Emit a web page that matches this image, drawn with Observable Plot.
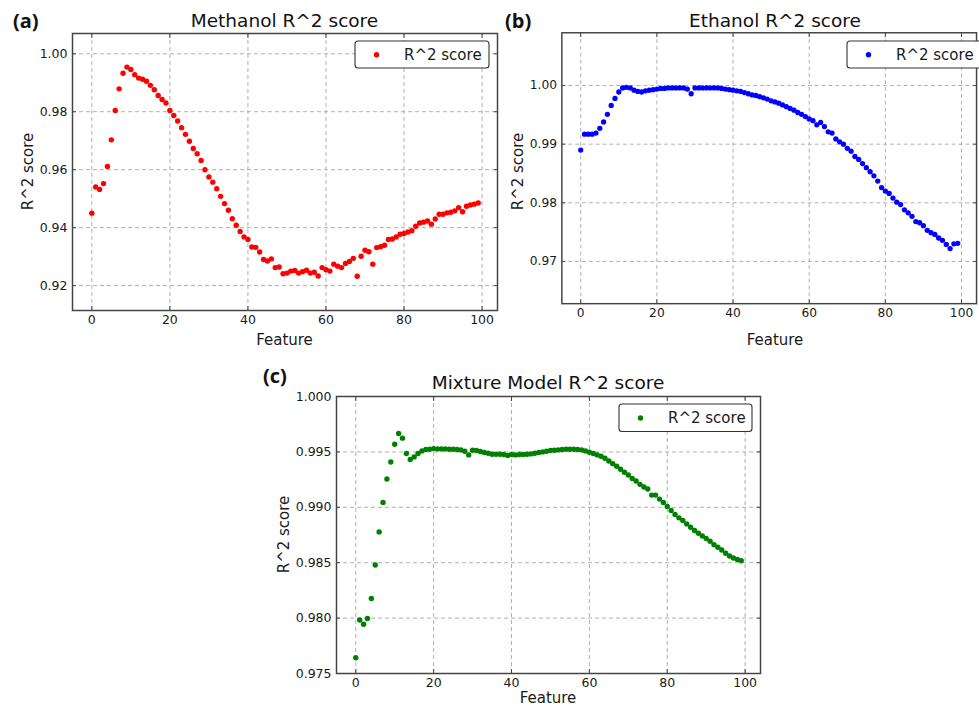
<!DOCTYPE html>
<html>
<head>
<meta charset="utf-8">
<script src="https://cdn.jsdelivr.net/npm/d3@7"></script>
<script src="https://cdn.jsdelivr.net/npm/@observablehq/plot@0.6"></script>
<style>
  html, body { margin: 0; padding: 0; background: #fff; }
  body { width: 979px; height: 708px; overflow: hidden; position: relative; font-family: "DejaVu Sans", sans-serif; }
  .panel { position: absolute; }
  #overlay { position: absolute; left: 0; top: 0; pointer-events: none; }
</style>
</head>
<body>
<div id="pa" class="panel" style="left:0px;top:0px"></div>
<div id="pb" class="panel" style="left:490px;top:0px"></div>
<div id="pc" class="panel" style="left:260px;top:350px"></div>
<svg id="overlay" width="979" height="708"></svg>
<script>
// ---------- data ----------
const features = Array.from({length: 100}, (_, i) => i);
const xTicks = [0, 20, 40, 60, 80, 100];

const methanolR2 = [
  0.9450, 0.9540, 0.9532, 0.9552, 0.9611, 0.9703, 0.9804, 0.9879, 0.9933, 0.9954,
  0.9946, 0.9928, 0.9916, 0.9912, 0.9905, 0.9891, 0.9876, 0.9856, 0.9842, 0.9830,
  0.9804, 0.9787, 0.9768, 0.9745, 0.9722, 0.9698, 0.9673, 0.9655, 0.9632, 0.9600,
  0.9575, 0.9557, 0.9534, 0.9508, 0.9483, 0.9460, 0.9431, 0.9408, 0.9387, 0.9368,
  0.9359, 0.9333, 0.9332, 0.9316, 0.9290, 0.9285, 0.9292, 0.9262, 0.9264, 0.9241,
  0.9243, 0.9250, 0.9252, 0.9243, 0.9248, 0.9253, 0.9243, 0.9246, 0.9233, 0.9262,
  0.9255, 0.9250, 0.9274, 0.9267, 0.9262, 0.9276, 0.9283, 0.9294, 0.9232, 0.9301,
  0.9322, 0.9317, 0.9274, 0.9331, 0.9334, 0.9339, 0.9359, 0.9361, 0.9368, 0.9377,
  0.9380, 0.9385, 0.9389, 0.9405, 0.9416, 0.9419, 0.9423, 0.9412, 0.9430, 0.9446,
  0.9446, 0.9451, 0.9453, 0.9458, 0.9469, 0.9455, 0.9474, 0.9478, 0.9481, 0.9485
];
const ethanolR2 = [
  0.9890, 0.9917, 0.9917, 0.9917, 0.9919, 0.9927, 0.9938, 0.9951, 0.9966, 0.9978,
  0.9989, 0.9996, 0.9997, 0.9996, 0.9992, 0.9990, 0.9989, 0.9991, 0.9992, 0.9993,
  0.9994, 0.9995, 0.9995, 0.9996, 0.9996, 0.9996, 0.9996, 0.9996, 0.9994, 0.9986,
  0.9996, 0.9996, 0.9996, 0.9996, 0.9996, 0.9996, 0.9996, 0.9995, 0.9994, 0.9993,
  0.9992, 0.9991, 0.9990, 0.9988, 0.9986, 0.9984, 0.9983, 0.9981, 0.9979, 0.9977,
  0.9974, 0.9972, 0.9970, 0.9967, 0.9964, 0.9961, 0.9958, 0.9954, 0.9951, 0.9947,
  0.9943, 0.9940, 0.9933, 0.9937, 0.9930, 0.9921, 0.9919, 0.9909, 0.9904, 0.9900,
  0.9893, 0.9888, 0.9879, 0.9874, 0.9867, 0.9860, 0.9853, 0.9846, 0.9837, 0.9826,
  0.9820, 0.9816, 0.9808, 0.9801, 0.9797, 0.9788, 0.9783, 0.9777, 0.9768, 0.9766,
  0.9761, 0.9753, 0.9749, 0.9746, 0.9740, 0.9736, 0.9729, 0.9722, 0.9730, 0.9731
];
const mixtureR2 = [
  0.97642, 0.97983, 0.97944, 0.97996, 0.98177, 0.98479, 0.98778, 0.99044, 0.99255, 0.99409,
  0.99569, 0.99666, 0.99624, 0.99485, 0.99431, 0.99455, 0.99485, 0.99509, 0.99521, 0.99524,
  0.99530, 0.99527, 0.99527, 0.99527, 0.99524, 0.99524, 0.99521, 0.99518, 0.99506, 0.99473,
  0.99515, 0.99512, 0.99503, 0.99494, 0.99488, 0.99479, 0.99479, 0.99479, 0.99476, 0.99467,
  0.99476, 0.99473, 0.99476, 0.99476, 0.99479, 0.99482, 0.99488, 0.99494, 0.99500, 0.99506,
  0.99512, 0.99515, 0.99518, 0.99521, 0.99524, 0.99524, 0.99524, 0.99521, 0.99518, 0.99509,
  0.99497, 0.99485, 0.99473, 0.99461, 0.99443, 0.99418, 0.99394, 0.99370, 0.99343, 0.99316,
  0.99292, 0.99261, 0.99237, 0.99207, 0.99183, 0.99165, 0.99110, 0.99110, 0.99074, 0.99044,
  0.99008, 0.98971, 0.98935, 0.98905, 0.98881, 0.98850, 0.98820, 0.98790, 0.98766, 0.98742,
  0.98718, 0.98693, 0.98663, 0.98639, 0.98615, 0.98585, 0.98560, 0.98542, 0.98530, 0.98518
];
const methanolTicks = [0.92, 0.94, 0.96, 0.98, 1.00];
const ethanolTicks = [0.97, 0.98, 0.99, 1.00];
const mixtureTicks = [0.975, 0.980, 0.985, 0.990, 0.995, 1.000];

const titles = ["Methanol R^2 score", "Ethanol R^2 score", "Mixture Model R^2 score"];
const panelTags = ["(a)", "(b)", "(c)"];
const xLabel = "Feature";
const yLabel = "R^2 score";
const legendLabel = "R^2 score";

// ---------- drawing ----------
const frameColor = "#444";
const gridStyle = {stroke: "#b0b0b0", strokeOpacity: 1, strokeWidth: 1, strokeDasharray: "4,3"};

function panel(values, color, yDomain, yTicks, yFmt, size) {
  const data = features.map((f, i) => ({feature: f, r2: values[i]}));
  return Plot.plot({
    width: size.width, height: size.height,
    marginLeft: size.ml, marginRight: size.mr, marginTop: size.mt, marginBottom: size.mb,
    x: {domain: [-4.95, 103.95]},
    y: {domain: yDomain},
    style: {fontFamily: "DejaVu Sans", fontSize: "12.5px", color: "#1a1a1a", background: "transparent", overflow: "visible"},
    marks: [
      Plot.gridX({ticks: xTicks, ...gridStyle}),
      Plot.gridY({ticks: yTicks, ...gridStyle}),
      Plot.dot(data, {x: "feature", y: "r2", r: 2.7, fill: color, stroke: "none"}),
      Plot.axisX({ticks: xTicks, anchor: "bottom", tickSize: -4, tickPadding: 9, tickFormat: d => String(d), label: null, stroke: frameColor}),
      Plot.axisX({ticks: xTicks, anchor: "top", tickSize: -4, tickFormat: () => "", label: null, stroke: frameColor}),
      Plot.axisY({ticks: yTicks, anchor: "left", tickSize: -4, tickPadding: 9, tickFormat: yFmt, label: null, stroke: frameColor}),
      Plot.axisY({ticks: yTicks, anchor: "right", tickSize: -4, tickFormat: () => "", label: null, stroke: frameColor}),
      Plot.frame({stroke: frameColor, strokeWidth: 1.5})
    ]
  });
}

document.getElementById("pa").appendChild(panel(methanolR2, "#ff0000", [0.9114, 1.0070], methanolTicks, d3.format(".2f"),
  {width: 500, height: 355, ml: 72, mr: 3, mt: 33, mb: 45}));
document.getElementById("pb").appendChild(panel(ethanolR2, "#0000ff", [0.9628, 1.0090], ethanolTicks, d3.format(".2f"),
  {width: 500, height: 355, ml: 73, mr: 3, mt: 33, mb: 45}));
document.getElementById("pc").appendChild(panel(mixtureR2, "#008000", [0.975, 1.000], mixtureTicks, d3.format(".3f"),
  {width: 505, height: 358, ml: 76, mr: 5, mt: 46, mb: 35}));

// ---------- overlay text & legends ----------
const svg = d3.select("#overlay");
const layout = [
  {cx: 284.5, titleY: 26.7, tagX: 13, tagY: 28, featY: 345, yLabX: 33, yLabY: 171.5,
   leg: {x: 355, y: 41, w: 134, h: 27}, color: "#ff0000"},
  {cx: 775, titleY: 26.7, tagX: 505, tagY: 28, featY: 345, yLabX: 523, yLabY: 171.5,
   leg: {x: 847, y: 41, w: 150, h: 27}, color: "#0000ff"},
  {cx: 548, titleY: 389, tagX: 263, tagY: 383, featY: 703, yLabX: 289, yLabY: 534.5,
   leg: {x: 619, y: 404, w: 133, h: 27.5}, color: "#008000"}
];
layout.forEach((p, i) => {
  svg.append("text").attr("x", p.cx).attr("y", p.titleY).attr("text-anchor", "middle")
    .attr("font-family", "DejaVu Sans").attr("font-size", 18.5).attr("fill", "#111").text(titles[i]);
  svg.append("text").attr("x", p.tagX).attr("y", p.tagY)
    .attr("font-family", "Open Sans").attr("font-weight", 700).attr("font-size", 20).attr("fill", "#111").text(panelTags[i]);
  svg.append("text").attr("x", p.cx).attr("y", p.featY).attr("text-anchor", "middle")
    .attr("font-family", "DejaVu Sans").attr("font-size", 15).attr("fill", "#1a1a1a").text(xLabel);
  svg.append("text").attr("transform", `translate(${p.yLabX},${p.yLabY}) rotate(-90)`).attr("text-anchor", "middle")
    .attr("font-family", "DejaVu Sans").attr("font-size", 15).attr("fill", "#1a1a1a").text(yLabel);
  const L = p.leg;
  svg.append("rect").attr("x", L.x).attr("y", L.y).attr("width", L.w).attr("height", L.h).attr("rx", 3)
    .attr("fill", "#fff").attr("stroke", "#333").attr("stroke-width", 1.1);
  svg.append("circle").attr("cx", L.x + 21.5).attr("cy", L.y + L.h / 2 + 0.3).attr("r", 2.7).attr("fill", p.color);
  svg.append("text").attr("x", L.x + 49).attr("y", L.y + L.h / 2 + 5.2)
    .attr("font-family", "DejaVu Sans").attr("font-size", 15).attr("fill", "#1a1a1a").text(legendLabel);
});
</script>
</body>
</html>
